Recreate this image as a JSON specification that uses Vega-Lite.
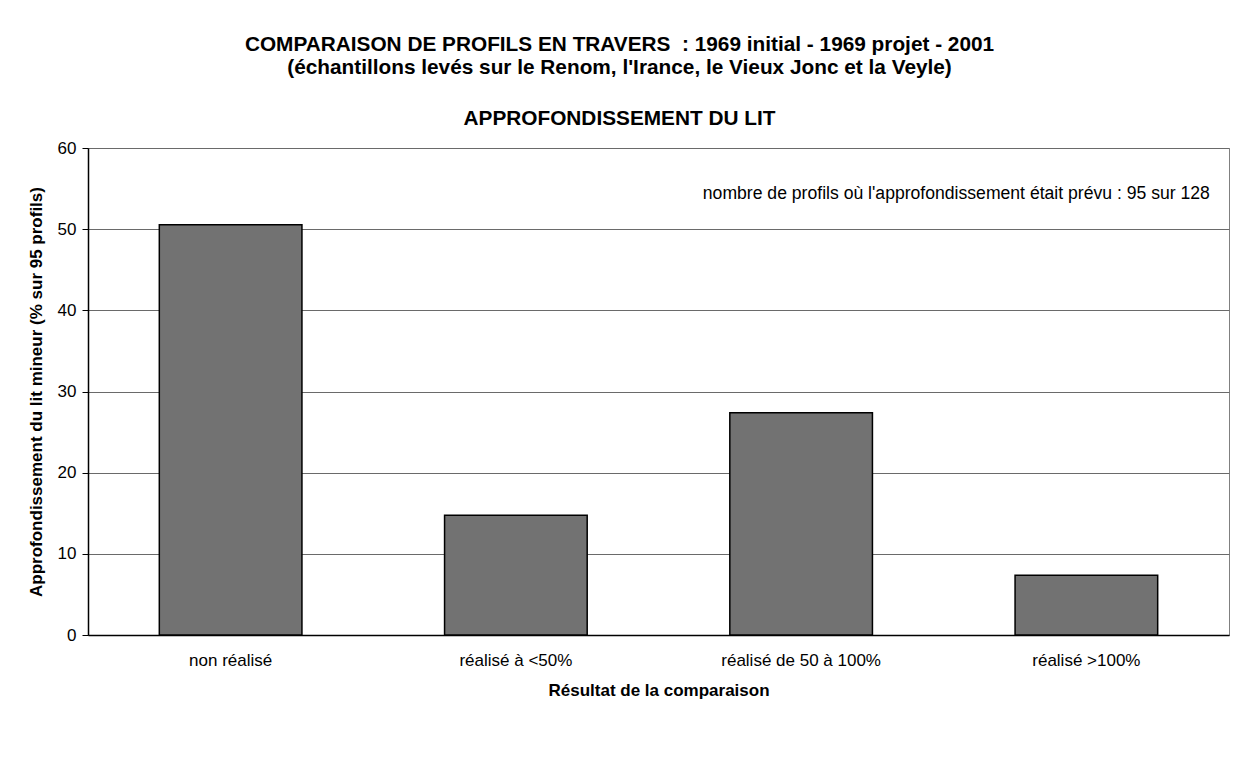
{
  "$schema": "https://vega.github.io/schema/vega-lite/v6.json",
  "width": 1141,
  "height": 487,
  "autosize": {"type": "none"},
  "padding": {"left": 88, "top": 148, "right": 16, "bottom": 134},
  "background": "white",
  "title": {
    "text": ["COMPARAISON DE PROFILS EN TRAVERS \u00a0: 1969 initial - 1969 projet - 2001", "(échantillons levés sur le Renom, l'Irance, le Vieux Jonc et la Veyle)"],
    "subtitle": "APPROFONDISSEMENT DU LIT",
    "anchor": "middle",
    "frame": "group",
    "dx": -39,
    "offset": 9,
    "font": "Liberation Sans",
    "fontSize": 20.8,
    "fontWeight": "bold",
    "lineHeight": 23,
    "color": "black",
    "subtitleFont": "Liberation Sans",
    "subtitleFontSize": 20.8,
    "subtitleFontWeight": "bold",
    "subtitleColor": "black",
    "subtitlePadding": 30
  },
  "config": {
    "view": {"stroke": "#808080", "strokeWidth": 1},
    "font": "Liberation Sans"
  },
  "layer": [
    {
      "data": {
        "values": [
          {"resultat": "non réalisé", "pct": 50.53},
          {"resultat": "réalisé à <50%", "pct": 14.74},
          {"resultat": "réalisé de 50 à 100%", "pct": 27.37},
          {"resultat": "réalisé >100%", "pct": 7.37}
        ]
      },
      "mark": {"type": "bar", "fill": "#727272", "stroke": "black", "strokeWidth": 1.5},
      "encoding": {
        "x": {
          "field": "resultat",
          "type": "nominal",
          "sort": null,
          "scale": {"paddingInner": 0.5, "paddingOuter": 0.25},
          "axis": {
            "title": "Résultat de la comparaison",
            "titleFontSize": 17,
            "titleFontWeight": "bold",
            "titleColor": "black",
            "titlePadding": 14,
            "labelAngle": 0,
            "labelFontSize": 17,
            "labelColor": "black",
            "labelPadding": 17,
            "ticks": false,
            "domainColor": "black",
            "domainWidth": 1.5
          }
        },
        "y": {
          "field": "pct",
          "type": "quantitative",
          "scale": {"domain": [0, 60]},
          "axis": {
            "title": "Approfondissement du lit mineur (% sur 95 profils)",
            "titleFontSize": 17,
            "titleFontWeight": "bold",
            "titleColor": "black",
            "titlePadding": 12,
            "values": [0, 10, 20, 30, 40, 50, 60],
            "labelFontSize": 17,
            "labelColor": "black",
            "labelPadding": 6,
            "tickSize": 6,
            "tickColor": "black",
            "domainColor": "black",
            "domainWidth": 1.5,
            "grid": true,
            "gridColor": "#6a6a6a",
            "gridWidth": 1
          }
        }
      }
    },
    {
      "data": {"values": [{"note": "nombre de profils où l'approfondissement était prévu : 95 sur 128"}]},
      "mark": {"type": "text", "align": "left", "baseline": "middle", "fontSize": 17.6, "dx": -27, "color": "black"},
      "encoding": {
        "text": {"field": "note"},
        "x": {"datum": "réalisé de 50 à 100%", "bandPosition": 0},
        "y": {"datum": 54.3}
      }
    }
  ]
}
